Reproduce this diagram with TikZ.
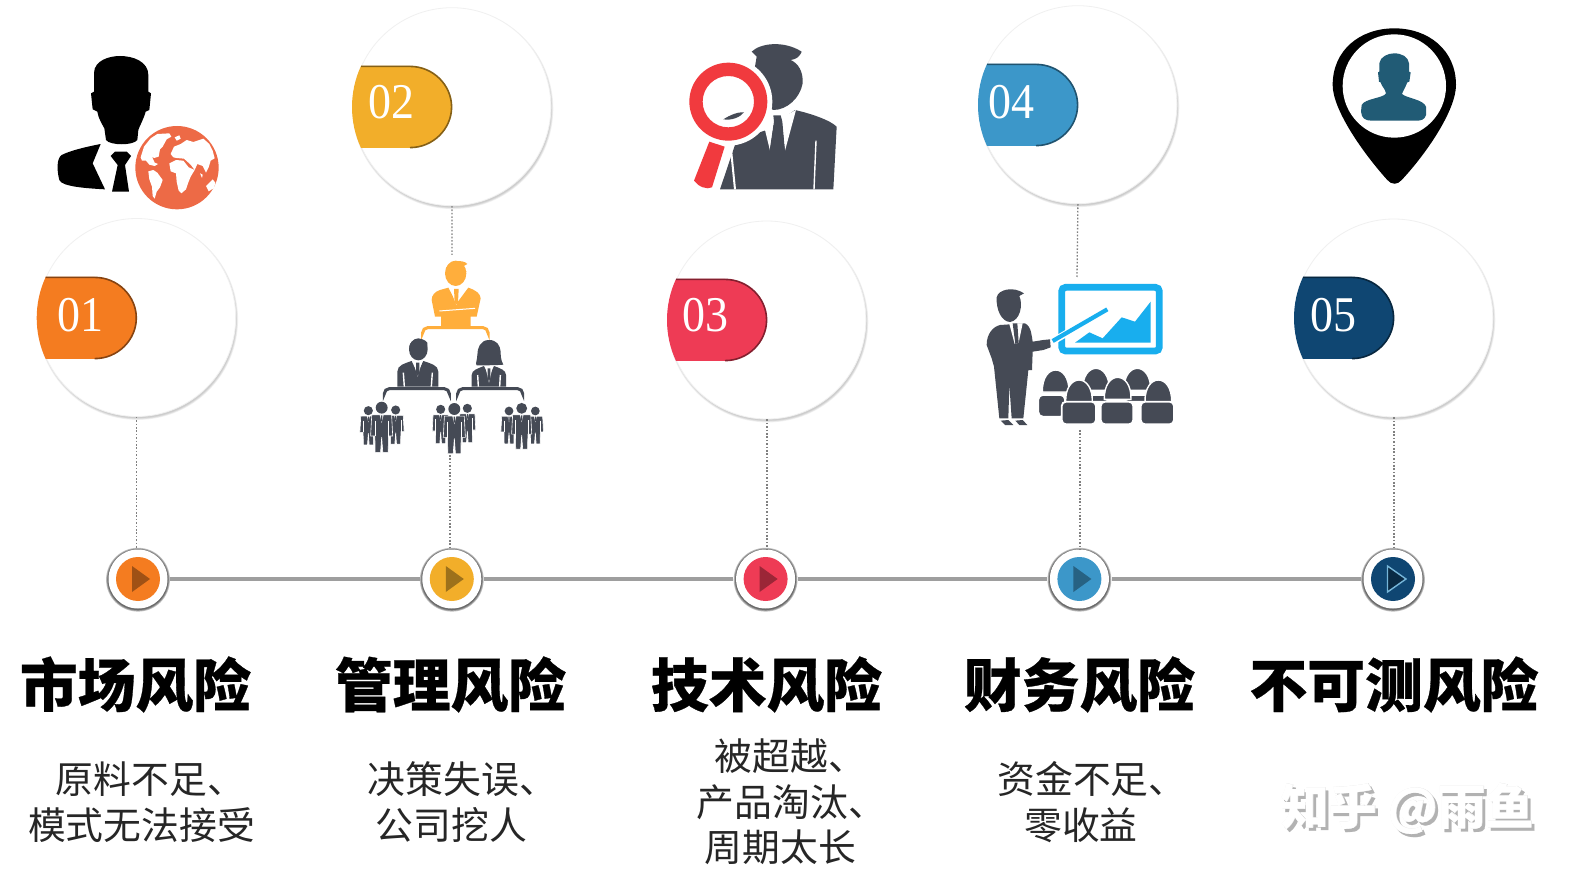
\documentclass[tikz,border=0pt]{standalone}
\usepackage{fontspec}
\setmainfont{Liberation Serif}
\newfontfamily\cjk[BoldFeatures={FakeBold=.5}]{Noto Sans CJK SC}
\usetikzlibrary{calc}
\definecolor{cOne}{HTML}{F47C20}
\definecolor{cTwo}{HTML}{F2AE2A}
\definecolor{cThree}{HTML}{EE3B55}
\definecolor{cFour}{HTML}{3C97C9}
\definecolor{cFive}{HTML}{0F4672}
\definecolor{slate}{HTML}{454A55}
\definecolor{goldman}{HTML}{FFAE3C}
\definecolor{skyb}{HTML}{18AEEE}
\definecolor{redglass}{HTML}{F13A3E}
\definecolor{teal5}{HTML}{215B75}
\definecolor{globe}{HTML}{ED6A46}
\tikzset{
  zoomed/.style 2 args={shift={(#1,#2)},x=0.16667pt,y=-0.16667pt},
  bigring/.style={circle,fill=white,draw=black!6,line width=.4pt,inner sep=0pt,minimum size=99pt},
  stopring/.style={circle,fill=white,inner sep=0pt,minimum size=29.5pt},
  railline/.style={draw=black!38,line width=2pt},
  dotline/.style={draw=black!50,line width=.65pt,dash pattern=on .8pt off .9pt},
  numtext/.style={text=white,font=\fontsize{25}{25}\selectfont,xscale=.92,inner sep=0pt},
  headtext/.style={font=\cjk\bfseries\fontsize{28.9}{30}\selectfont,inner sep=0pt,text=black},
  subtext/.style={font=\cjk\fontsize{18.9}{22.75}\selectfont,inner sep=0pt,align=center,text=black!85},
  markfont/.style={font=\cjk\bfseries\fontsize{24}{25}\selectfont,inner sep=0pt},
  bracketline/.style={line width=1.5pt,rounded corners=2.5pt},
  cutline/.style={draw=white,line width=.7pt},
}
\newcommand{\dun}{\makebox[.42em][l]{、}}
\newcommand{\softcircle}[3]{%
  \foreach \k in {4,3,2,1}{\fill[black,opacity=.05] ({#1+1},{#2+2}) circle[radius={#3+\k*.6-1}];}}
\newcommand{\stophalo}[2]{%
  \foreach \k in {3,2,1}{\fill[black,opacity=.25] ({#1},{#2+.7}) circle[radius={29.5+\k*.8}];}}
\newcommand{\tagshape}[4]{%
  \fill[#3] (#1+9,#2-41) -- (#1+58,#2-41) .. controls (#1+81,#2-41) and (#1+100,#2-22) .. (#1+100,#2)
     .. controls (#1+100,#2+22) and (#1+81,#2+41) .. (#1+58,#2+41) -- (#1+9,#2+41)
     .. controls (#1+3,#2+28) and (#1,#2+14) .. (#1,#2) .. controls (#1,#2-14) and (#1+3,#2-28) .. (#1+9,#2-41) -- cycle;
  \draw[#3!55!black,line width=.8pt] (#1+9,#2-40.6) -- (#1+58,#2-40.6) .. controls (#1+81,#2-40.6) and (#1+99.6,#2-22) .. (#1+99.6,#2)
     .. controls (#1+99.6,#2+22) and (#1+81,#2+40.6) .. (#1+58,#2+40.6);
  #4}
\newcommand{\dome}[2]{%
  \fill[slate,draw=white,line width=.7pt] (#1-40,#2+28) .. controls (#1-42,#2-60) and (#1+42,#2-60) .. (#1+40,#2+28) -- cycle;}
\newcommand{\desk}[4]{%
  \fill[slate,draw=white,line width=.9pt,rounded corners=2.2pt] (#1,#2) rectangle (#3,#4);}
\newcommand{\standing}[3]{%
  \begin{scope}[shift={(#1,#2)},scale=#3]
    \fill[slate,draw=white,line width=.3pt] (-1.75,1.25) -- (1.75,1.25) -- (1.95,5) -- (1.2,5) -- (1.15,7.9) -- (.2,7.9) -- (0,5.2) -- (-.2,7.9) -- (-1.15,7.9) -- (-1.2,5) -- (-1.95,5) -- cycle;
    \fill[slate] (0,0) circle[radius=1.05];
    \fill[white] (-.35,1.25) -- (0,2.7) -- (.35,1.25) -- cycle;
    \fill[slate] (-.13,1.35) -- (.13,1.35) -- (.15,2.4) -- (-.15,2.4) -- cycle;
    \draw[white,line width=.25pt] (-1.2,2.3) -- (-1.2,5) (1.2,2.3) -- (1.2,5);
  \end{scope}}
\begin{document}
\begin{tikzpicture}[x=0.5pt,y=-0.5pt]
\useasboundingbox (0,0) rectangle (1576,877);
\fill[white] (0,0) rectangle (1576,877);

% big circles
\softcircle{136.7}{317.5}{99}
\softcircle{451.9}{106.7}{99}
\softcircle{766.9}{320}{99}
\softcircle{1077.9}{104.7}{99}
\softcircle{1393.9}{318}{99}
\node[bigring] (c1) at (136.7,317.5) {};
\node[bigring] (c2) at (451.9,106.7) {};
\node[bigring] (c3) at (766.9,320) {};
\node[bigring] (c4) at (1077.9,104.7) {};
\node[bigring] (c5) at (1393.9,318) {};

% tags
\tagshape{36.7}{318}{cOne}{\node[numtext] (n1) at (80,315) {01};}
\tagshape{352}{107}{cTwo}{\node[numtext] (n2) at (391,102) {02};}
\tagshape{667}{320}{cThree}{\node[numtext] (n3) at (705,315.5) {03};}
\tagshape{978}{105}{cFour}{\node[numtext] (n4) at (1011,102) {04};}
\tagshape{1294}{318}{cFive}{\node[numtext] (n5) at (1333,315) {05};}

% timeline stops
\stophalo{138}{579}\stophalo{451.8}{579}\stophalo{765.6}{579}\stophalo{1079.4}{579}\stophalo{1393}{579}
\node[stopring] (t1) at (138,579) {};
\node[stopring] (t2) at (451.8,579) {};
\node[stopring] (t3) at (765.6,579) {};
\node[stopring] (t4) at (1079.4,579) {};
\node[stopring] (t5) at (1393,579) {};
\draw[railline,shorten >=1.2pt,shorten <=1.2pt] (t1) -- (t2);
\draw[railline,shorten >=1.2pt,shorten <=1.2pt] (t2) -- (t3);
\draw[railline,shorten >=1.2pt,shorten <=1.2pt] (t3) -- (t4);
\draw[railline,shorten >=1.2pt,shorten <=1.2pt] (t4) -- (t5);
\fill[cOne] (t1) circle[radius=22];
\fill[cTwo] (t2) circle[radius=22];
\fill[cThree] (t3) circle[radius=22];
\fill[cFour] (t4) circle[radius=22];
\fill[cFive] (t5) circle[radius=22];
\fill[cOne!65!black] ($(t1)+(-6,-13)$) -- ($(t1)+(12,0)$) -- ($(t1)+(-6,13)$) -- cycle;
\fill[cTwo!65!black] ($(t2)+(-6,-13)$) -- ($(t2)+(12,0)$) -- ($(t2)+(-6,13)$) -- cycle;
\fill[cThree!65!black] ($(t3)+(-6,-13)$) -- ($(t3)+(12,0)$) -- ($(t3)+(-6,13)$) -- cycle;
\fill[cFour!65!black] ($(t4)+(-6,-13)$) -- ($(t4)+(12,0)$) -- ($(t4)+(-6,13)$) -- cycle;
\filldraw[fill=cFive!60!black,draw=cFour!70!white,line width=.7pt] ($(t5)+(-5.5,-13)$) -- ($(t5)+(13,0)$) -- ($(t5)+(-5.5,13)$) -- cycle;

% dotted connectors
\coordinate (i2top) at (452,255);
\coordinate (i2bot) at (450,455);
\coordinate (i4top) at (1077,277);
\coordinate (i4bot) at (1080,430);
\draw[dotline] (c1.south) -- (c1.south |- t1.north);
\draw[dotline] (c2.south) -- (i2top);
\draw[dotline] (i2bot) -- (i2bot |- t2.north);
\draw[dotline] (c3.south) -- (c3.south |- t3.north);
\draw[dotline] (c4.south) -- (i4top);
\draw[dotline] (i4bot) -- (i4bot |- t4.north);
\draw[dotline] (c5.south) -- (c5.south |- t5.north);

% icon 1: businessman with globe
\begin{scope}[zoomed={20}{30}]
  \fill[black] (222,130) .. controls (222,90) and (270,78) .. (300,78) .. controls (340,78) and (385,95) .. (385,135) -- (385,185) -- (393,190) -- (388,240) -- (377,245) .. controls (370,270) and (360,285) .. (355,300) -- (352,330) .. controls (340,347) and (270,347) .. (258,330) -- (253,295) .. controls (245,280) and (235,265) .. (232,245) -- (218,238) -- (213,190) -- (222,185) -- cycle;
  \fill[black] (242,342) .. controls (200,350) and (150,362) .. (125,375) .. controls (110,385) and (110,420) .. (118,450) .. controls (125,470) and (200,475) .. (255,478) -- (218,400) -- cycle;
  \fill[black] (272,378) -- (285,365) -- (320,365) -- (333,378) -- (315,405) -- (327,485) -- (276,485) -- (293,405) -- cycle;
  \fill[globe] (471,413) circle[radius=125];
  \fill[white] (362,382) -- (372,350) -- (392,325) -- (412,312) -- (448,310) -- (454,320) -- (440,328) -- (428,350) -- (420,358) -- (416,380) -- (402,384) -- (396,380) -- (404,398) -- (414,402) -- (404,408) -- (388,404) -- (378,392) -- (366,392) -- cycle;
  \fill[white] (385,424) -- (400,420) -- (412,428) -- (428,450) -- (420,472) -- (410,485) -- (404,506) -- (398,498) -- (396,470) -- (388,448) -- cycle;
  \fill[white] (452,372) -- (462,350) -- (482,342) -- (500,330) -- (520,336) -- (550,326) -- (568,342) -- (578,362) -- (584,385) -- (572,392) -- (566,412) -- (558,428) -- (548,408) -- (532,402) -- (524,420) -- (512,404) -- (492,386) -- (470,384) -- (460,382) -- cycle;
  \fill[white] (448,400) -- (468,390) -- (490,392) -- (506,412) -- (524,420) -- (512,440) -- (504,460) -- (498,478) -- (484,490) -- (476,482) -- (470,455) -- (468,430) -- (452,424) -- cycle;
  \fill[white] (558,468) -- (578,448) -- (586,458) -- (582,474) -- (566,484) -- cycle;
  \fill[white] (464,322) -- (478,316) -- (482,326) -- (470,332) -- cycle (540,430) -- (548,434) -- (546,444) -- cycle;
\end{scope}

% icon 2: organisation chart
\begin{scope}[zoomed={340}{240}]
  \fill[goldman] (347,100) ellipse[x radius=32,y radius=38];
  \fill[goldman] (318,85) .. controls (330,60) and (370,58) .. (382,72) -- (368,80) -- (380,95) -- (318,100) -- cycle;
  \fill[goldman] (300,150) .. controls (285,155) and (275,165) .. (275,180) -- (285,230) -- (303,230) -- (303,262) -- (392,262) -- (392,230) -- (410,230) -- (422,175) .. controls (420,160) and (410,152) .. (385,143) -- (350,190) -- (325,143) -- cycle;
  \fill[white] (330,145) -- (349,195) -- (368,145) -- cycle;
  \fill[goldman] (342,147) -- (356,147) -- (354,188) -- (349,194) -- (344,188) -- cycle;
  \draw[white,line width=.5pt] (298,213) -- (405,205);
  \draw[goldman,bracketline] (248,276) -- (248,263) -- (444,263) -- (444,276);
  % middle man
  \fill[slate] (235,328) ellipse[x radius=28,y radius=33];
  \fill[slate] (208,320) .. controls (210,295) and (250,290) .. (262,308) -- (262,325) -- (208,330) -- cycle;
  \fill[slate] (172,440) -- (172,395) .. controls (172,375) and (195,370) .. (215,363) -- (232,400) -- (250,363) .. controls (270,370) and (295,375) .. (295,395) -- (295,440) -- cycle;
  \fill[white] (220,365) -- (233,410) -- (246,365) -- cycle;
  \fill[slate] (228,368) -- (238,368) -- (238,400) -- (233,408) -- (228,400) -- cycle;
  \draw[cutline] (190,398) -- (193,440) (277,398) -- (274,440);
  \draw[slate,bracketline] (133,459) -- (133,446) -- (328,446) -- (328,459);
  % woman
  \fill[slate] (447,300) .. controls (420,300) and (412,325) .. (412,345) .. controls (412,360) and (405,370) .. (410,376) .. controls (425,376) and (470,376) .. (490,374) .. controls (482,360) and (482,345) .. (482,335) .. controls (480,315) and (470,300) .. (447,300) -- cycle;
  \fill[slate] (395,440) -- (395,405) .. controls (395,390) and (415,385) .. (432,378) -- (447,410) -- (462,378) .. controls (480,385) and (498,390) .. (498,405) -- (498,440) -- cycle;
  \fill[white] (436,380) -- (447,428) -- (458,380) -- cycle;
  \fill[slate] (443,385) -- (451,385) -- (451,415) -- (447,424) -- (443,415) -- cycle;
  \draw[cutline] (413,405) -- (415,440) (481,405) -- (479,440);
  \draw[slate,bracketline] (353,459) -- (353,446) -- (548,446) -- (548,459);
  % bottom groups
  \standing{85}{512}{13}\standing{167}{510}{13}\standing{125}{503}{17}
  \standing{302}{508}{13}\standing{382}{505}{13}\standing{343}{507}{17}
  \standing{507}{513}{12.5}\standing{586}{513}{12.5}\standing{545}{505}{15.5}
\end{scope}

% icon 3: man behind magnifier
\begin{scope}[zoomed={670}{30}]
  \fill[slate] (375,240) .. controls (420,250) and (480,270) .. (500,290) -- (490,478) -- (150,478) -- (200,330) -- (290,300) -- cycle;
  \fill[slate] (245,65) .. controls (270,40) and (340,30) .. (395,65) .. controls (390,80) and (378,88) .. (362,90) .. controls (385,100) and (400,125) .. (398,160) .. controls (390,205) and (350,240) .. (310,240) -- (240,200) -- (260,80) -- cycle;
  \fill[white] (285,300) -- (300,362) -- (313,268) -- (300,262) -- cycle;
  \fill[white] (334,262) -- (345,362) -- (378,240) -- (350,255) -- cycle;
  \fill[slate] (310,256) -- (332,256) -- (337,275) -- (345,368) -- (298,368) -- (312,275) -- cycle;
  \draw[cutline] (438,332) -- (432,478);
  \draw[cutline,line width=1pt] (182,348) -- (195,478);
  \fill[white] (175,215) circle[radius=132];
  \fill[white] (105,325) -- (175,345) -- (135,490) -- (60,460) -- cycle;
  \fill[redglass,even odd rule] (175,215) circle[radius=117] (175,215) circle[radius=77];
  \fill[redglass] (118,335) -- (164,350) -- (126,472) .. controls (110,480) and (85,470) .. (72,452) -- cycle;
  \fill[slate] (160,268) .. controls (180,255) and (205,245) .. (222,247) .. controls (210,262) and (185,272) .. (160,268) -- cycle;
\end{scope}

% icon 4: presenter and audience
\begin{scope}[zoomed={970}{270}]
  \fill[slate] (80,82) .. controls (85,58) and (130,48) .. (162,70) -- (148,78) .. controls (160,105) and (150,152) .. (120,156) .. controls (95,155) and (78,120) .. (80,82) -- cycle;
  \fill[slate] (90,165) -- (165,160) .. controls (185,170) and (185,200) .. (188,215) -- (220,210) -- (240,208) -- (242,232) -- (220,240) -- (188,245) -- (186,300) -- (175,300) -- (172,330) -- (160,445) -- (125,445) -- (118,345) -- (115,445) -- (88,445) -- (72,290) -- (65,265) -- (50,225) .. controls (50,190) and (70,170) .. (90,165) -- cycle;
  \fill[white] (118,162) -- (134,222) -- (146,218) -- (158,160) -- cycle;
  \fill[slate] (128,160) -- (142,160) -- (146,218) -- (136,222) -- cycle;
  \fill[slate] (92,452) -- (115,450) -- (130,465) -- (105,465) -- cycle (136,452) -- (158,450) -- (172,465) -- (148,465) -- cycle;
  \draw[skyb,line width=3.4pt,rounded corners=2pt] (275,52) rectangle (568,243);
  \fill[skyb] (315,218) -- (358,187) -- (398,205) -- (455,142) -- (495,155) -- (542,95) -- (542,218) -- cycle;
  \draw[white,line width=3.4pt] (250,213) -- (412,118);
  \draw[skyb,line width=2.1pt] (248,213) -- (412,118);
  \dome{257}{338}\dome{378}{333}\dome{502}{333}
  \desk{205}{375}{285}{440}\desk{340}{375}{420}{395}\desk{460}{375}{540}{395}
  \dome{327}{368}\dome{443}{360}\dome{565}{368}
  \desk{275}{395}{378}{463}\desk{392}{395}{490}{463}\desk{512}{395}{612}{463}
\end{scope}

% icon 5: location pin
\begin{scope}[zoomed={1310}{20}]
  \fill[black] (68,195) .. controls (68,90) and (150,25) .. (253,25) .. controls (355,25) and (438,90) .. (438,195) .. controls (438,270) and (350,400) .. (275,480) .. controls (262,495) and (245,495) .. (232,480) .. controls (160,400) and (68,270) .. (68,195) -- cycle;
  \fill[white] (253,198) circle[radius=155];
  \fill[teal5] (208,130) .. controls (210,110) and (235,100) .. (252,100) .. controls (275,100) and (295,110) .. (297,130) -- (297,155) -- (302,157) -- (298,185) -- (292,187) .. controls (285,205) and (278,215) .. (276,222) .. controls (290,235) and (340,238) .. (348,260) -- (348,285) .. controls (345,300) and (330,302) .. (320,302) -- (185,302) .. controls (165,302) and (155,295) .. (153,275) -- (155,255) .. controls (165,235) and (220,235) .. (228,220) .. controls (225,205) and (215,200) .. (212,187) -- (207,185) -- (204,157) -- (208,155) -- cycle;
\end{scope}

% headings
\node[headtext] (h1) at (135.5,684.5) {市场风险};
\node[headtext] (h2) at (450.5,684.5) {管理风险};
\node[headtext] (h3) at (766.5,684.5) {技术风险};
\node[headtext] (h4) at (1079.5,684.5) {财务风险};
\node[headtext] (h5) at (1394,684.5) {不可测风险};

% descriptions
\node[subtext] (d1) at (141.5,802) {\hspace*{-2pt}原料不足\dun\\模式无法接受};
\node[subtext] (d2) at (451.5,802) {决策失误\dun\\公司挖人};
\node[subtext] (d3) at (780.5,802) {\hspace*{-1pt}被超越\dun\\产品淘汰\dun\\周期太长};
\node[subtext] (d4) at (1081,802) {资金不足\dun\\零收益};

% watermark: one text, embossed
\node[markfont,text=white] (w) at (1407,810) {\rlap{\hspace{1.6pt}\raisebox{-1.6pt}{\textcolor{black!30}{知乎 @雨鱼}}}\rlap{\hspace{.25pt}\textcolor{black!12}{知乎 @雨鱼}}知乎 @雨鱼};
\end{tikzpicture}
\end{document}
